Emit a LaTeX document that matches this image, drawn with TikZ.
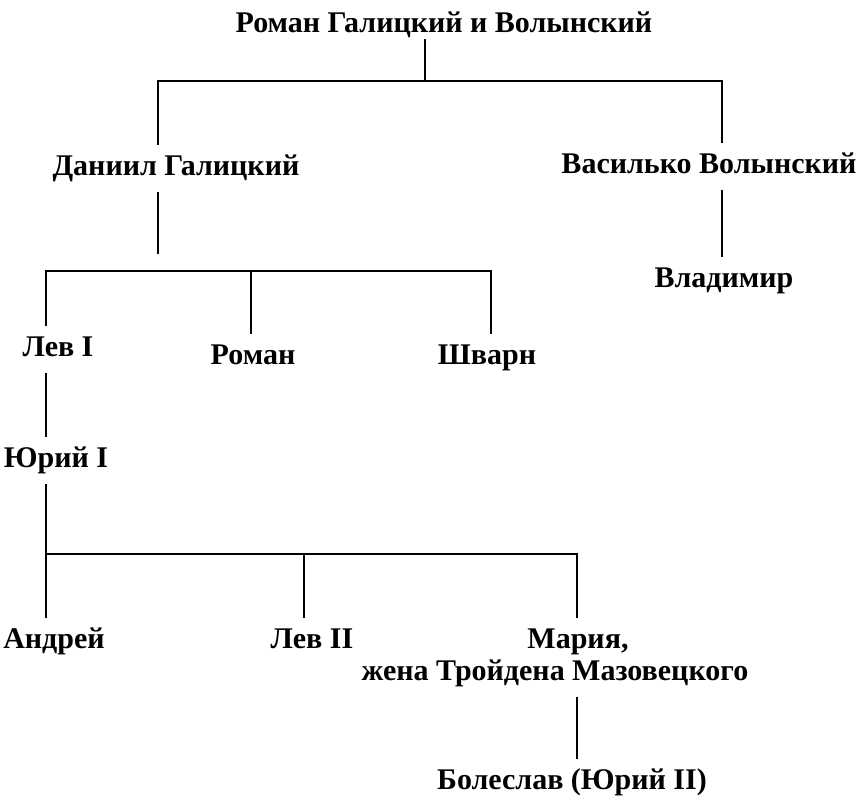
\documentclass[tikz,border=0pt]{standalone}
\usepackage{fontspec}
\setmainfont{Liberation Serif}

\tikzset{%
  every person/.style={
    font=\fontsize{30}{30}\selectfont\bfseries,
    anchor=base,
    inner xsep=2pt,
    inner ysep=11pt,
    text height=20pt,
    text depth=7pt
  },
  branch/.style={
    line width=2.8pt,
    line cap=rect
  },
}

\begin{document}
\begin{tikzpicture}[x=1pt, y=-1pt]
\useasboundingbox (0,0) rectangle (860,796);

% FIRST generation
\node [every person, text depth=0pt, inner ysep=8pt]
  (roman-gv) at (444,32) {Роман Галицкий и Волынский};

% SECOND generation
\node [every person] (daniil) at (176,175) {Даниил Галицкий};
\node [every person] (vasilko) at (709,173) {Василько Волынский};

% THIRD generation
\node [every person] (vladimir) at (724,287) {Владимир};
\foreach \m/\l/\x/\y in {lev-1/Лев I/58/356,roman/Роман/253/364,shvarn/Шварн/487/364}
  \node [every person] (\m) at (\x,\y) {\l};

% FOURTH generation
\node [every person] (yurii) at (56,467) {Юрий I};

% FIFTH generation
\foreach \m/\l/\x in {andrei/Андрей/54,lev-2/Лев II/312,maria/{Мария,}/578}
  \node [every person] (\m) at (\x,648) {\l};
\node [every person] (maria-note) at (555,680) {жена Тройдена Мазовецкого};

% SIXTH generation
\node [every person] (boleslav) at (572,789) {Болеслав (Юрий II)};

% Joints of the bars
\coordinate (bar1-mid) at (425,81);
\coordinate (bar1-left) at (158,81);
\coordinate (bar1-right) at (722,81);
\coordinate (daniil-end) at (158,253);
\coordinate (bar2-left) at (46,271);
\coordinate (bar2-mid) at (251,271);
\coordinate (bar2-right) at (491,271);
\coordinate (bar3-left) at (46,554);
\coordinate (bar3-mid) at (304,554);
\coordinate (bar3-right) at (577,554);

% Connections: Roman -> sons
\draw [branch] (bar1-mid |- roman-gv.south) -- (bar1-mid);
\draw [branch] (bar1-left) -- (bar1-right);
\draw [branch] (bar1-left) -- (bar1-left |- daniil.north);
\draw [branch] (bar1-right) -- (bar1-right |- vasilko.north);

% Connections: Vasilko -> Vladimir
\draw [branch] (bar1-right |- vasilko.south) -- (bar1-right |- vladimir.north);

% Connections: Daniil -> sons
\draw [branch] (daniil-end |- daniil.south) -- (daniil-end);
\draw [branch] (bar2-left) -- (bar2-right);
\foreach \j/\n in {left/lev-1,mid/roman,right/shvarn}
  \draw [branch] (bar2-\j) -- (bar2-\j |- \n.north);

% Connections: Lev I -> Yurii I -> children
\draw [branch] (bar3-left |- lev-1.south) -- (bar3-left |- yurii.north);
\draw [branch] (bar3-left |- yurii.south) -- (bar3-left);
\draw [branch] (bar3-left) -- (bar3-right);
\foreach \j/\n in {left/andrei,mid/lev-2,right/maria}
  \draw [branch] (bar3-\j) -- (bar3-\j |- \n.north);

% Connections: Maria -> Boleslav
\draw [branch] (bar3-right |- maria-note.south) -- (bar3-right |- boleslav.north);

\end{tikzpicture}
\end{document}
